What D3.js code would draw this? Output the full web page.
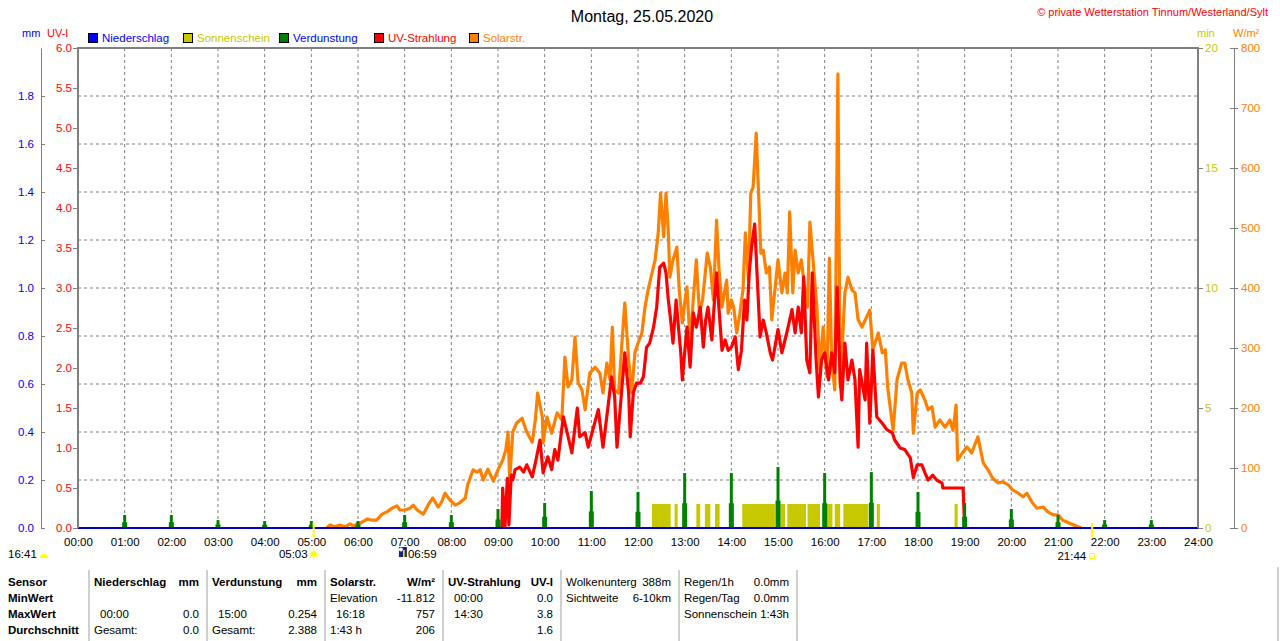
<!DOCTYPE html>
<html>
<head>
<meta charset="utf-8">
<script src="https://cdn.jsdelivr.net/npm/d3@7"></script>
<style>
  body { margin: 0; background: #fff; }
  svg { display: block; font-family: "Liberation Sans", Arial, sans-serif; }
</style>
</head>
<body>
<div id="chart"></div>
<script>
// --- Data (minutes after midnight, value) ---
const title = "Montag, 25.05.2020";
const copyright = "\u00a9 private Wetterstation Tinnum/Westerland/Sylt";

const hourLabels = d3.range(0, 25).map(h => String(h).padStart(2, "0") + ":00");

// Solarstrahlung W/m²
const solar = [
  [320,0],[324,5],[330,2],[337,5],[343,2],[350,7],[354,3],[359,7],[363,8],[368,12],[372,15],[378,13],
  [384,13],[391,23],[397,27],[404,33],[410,37],[414,30],[420,30],[427,33],[431,38],[436,30],[444,23],
  [450,38],[456,50],[463,35],[467,42],[472,58],[478,47],[485,38],[491,42],[498,50],[501,72],[508,97],
  [513,93],[517,97],[521,80],[527,98],[534,78],[540,97],[546,113],[550,130],[553,160],[555,80],[559,160],
  [564,175],[571,183],[575,167],[577,160],[584,143],[588,180],[591,225],[597,185],[598,142],[603,185],
  [609,158],[616,192],[622,180],[626,285],[630,235],[635,247],[639,318],[643,242],[648,230],[652,197],
  [658,258],[665,268],[671,258],[675,225],[680,275],[684,247],[687,335],[690,230],[695,225],[699,302],
  [703,375],[708,280],[712,225],[716,292],[720,308],[725,325],[729,368],[733,397],[738,425],[742,447],
  [746,492],[749,558],[753,485],[756,558],[759,492],[761,418],[765,447],[770,468],[773,397],[777,342],
  [780,375],[783,402],[787,308],[791,380],[795,447],[799,358],[803,380],[806,418],[809,458],[813,435],
  [817,380],[821,513],[824,435],[828,368],[831,392],[834,413],[836,358],[840,380],[843,368],[847,325],
  [851,358],[855,397],[858,492],[862,413],[865,558],[868,568],[872,658],[875,558],[878,458],[881,463],
  [885,425],[889,435],[892,347],[896,397],[900,447],[905,392],[909,425],[912,392],[915,527],[919,392],
  [922,463],[926,425],[930,447],[935,392],[938,368],[941,510],[945,447],[950,368],[954,263],[958,335],
  [963,252],[966,450],[969,280],[973,230],[977,757],[980,235],[986,392],[990,418],[995,397],[999,392],
  [1003,347],[1008,335],[1014,352],[1018,363],[1022,297],[1029,325],[1034,292],[1038,297],[1041,235],
  [1048,163],[1053,247],[1059,275],[1063,275],[1067,247],[1072,225],[1074,158],[1079,225],[1083,230],
  [1089,213],[1093,197],[1098,202],[1102,168],[1108,180],[1115,168],[1121,180],[1125,163],[1129,205],
  [1131,113],[1137,125],[1143,135],[1149,125],[1157,152],[1164,108],[1170,97],[1176,83],[1183,75],
  [1189,77],[1196,72],[1202,63],[1209,58],[1215,52],[1220,58],[1227,42],[1233,33],[1241,35],[1247,27],
  [1254,22],[1260,22],[1266,13],[1275,8],[1284,3],[1290,0]
];

// UV-Strahlung UV-I
const uv = [
  [545,0],[546,0.5],[549,0.02],[552,0.62],[554,0.04],[557,0.66],[559,0.6],[562,0.73],[568,0.76],
  [573,0.7],[577,0.79],[584,0.64],[588,0.81],[594,1.1],[598,0.69],[604,0.89],[609,0.73],[613,0.98],
  [617,0.85],[624,1.39],[629,1.19],[635,0.94],[642,1.5],[645,1.14],[652,1.19],[656,1.01],[662,1.23],
  [669,1.48],[675,1.01],[681,1.48],[686,1.89],[690,1.64],[693,1.01],[697,1.48],[703,2.19],[708,1.69],
  [710,1.14],[714,1.69],[718,1.81],[723,1.81],[727,1.89],[731,2.26],[735,2.31],[740,2.51],[744,2.76],
  [748,3.26],[753,3.31],[756,3.19],[759,2.85],[762,2.6],[765,2.31],[769,2.85],[772,2.51],[775,2.19],
  [777,1.85],[780,2.19],[783,2.51],[787,2.01],[791,2.69],[795,2.51],[800,2.76],[804,2.26],[807,2.6],
  [810,2.76],[815,2.35],[819,2.94],[821,3.19],[824,2.76],[828,2.22],[832,2.35],[836,2.22],[840,2.26],
  [845,2.39],[849,1.98],[853,2.22],[857,2.85],[860,2.6],[863,3.19],[866,3.51],[870,3.8],[873,3.19],
  [877,2.39],[881,2.6],[885,2.44],[890,2.19],[893,2.1],[896,2.26],[900,2.48],[905,2.19],[909,2.35],
  [913,2.51],[918,2.73],[922,2.44],[926,2.76],[930,2.44],[933,3.14],[937,2.1],[941,1.94],[944,3.19],
  [949,2.1],[952,1.64],[956,2.1],[960,2.19],[965,1.85],[969,2.19],[973,1.94],[976,3.01],[980,1.85],
  [982,1.6],[986,2.31],[990,1.85],[995,2.1],[999,1.85],[1003,1.01],[1005,1.98],[1012,1.6],[1014,2.31],
  [1018,1.31],[1022,2.22],[1027,1.39],[1034,1.31],[1040,1.23],[1047,1.19],[1050,1.1],[1057,1.0],
  [1063,0.98],[1070,0.88],[1074,0.63],[1079,0.79],[1085,0.79],[1089,0.69],[1093,0.6],[1099,0.66],
  [1104,0.6],[1111,0.56],[1112,0.5],[1138,0.5],[1140,0]
];

// Verdunstung mm per hour (00:00 .. 23:00)
const verdunstung = [0, 0.054, 0.054, 0.033, 0.029, 0.029, 0.029, 0.054, 0.054, 0.079, 0.104, 0.154,
  0.150, 0.229, 0.229, 0.254, 0.229, 0.233, 0.150, 0.104, 0.079, 0.054, 0.033, 0.033];

// Niederschlag mm per hour
const niederschlag = d3.range(0, 25).map(() => 0);

// Sonnenschein: [start, end] minutes, value in min
const sonnenschein = [
  [738,762,1],[767,771,1],[795,800,1],[806,813,1],[819,825,1],[854,896,1],[903,909,1],[912,936,1],
  [938,954,1],[962,970,1],[973,980,1],[984,1016,1],[1027,1031,1],[1127,1131,1]
];

const sunrise = 303, sunset = 1304, dayLength = "16:41", moonTime = 419;

const legendItems = [
  { name: "Niederschlag", fill: "#0000ff", text: "#0000ff" },
  { name: "Sonnenschein", fill: "#c8c800", text: "#c8c800" },
  { name: "Verdunstung", fill: "#008000", text: "#0000ff" },
  { name: "UV-Strahlung", fill: "#ff0000", text: "#ff0000" },
  { name: "Solarstr.", fill: "#ff8000", text: "#ff8000" }
];

// Table below chart
const rowLabels = ["Sensor", "MinWert", "MaxWert", "Durchschnitt"];
const tableBlocks = [
  { bold: true, rows: [["Niederschlag", "mm"], ["", ""], ["00:00", "0.0"], ["Gesamt:", "0.0"]] },
  { bold: true, rows: [["Verdunstung", "mm"], ["", ""], ["15:00", "0.254"], ["Gesamt:", "2.388"]] },
  { bold: true, rows: [["Solarstr.", "W/m\u00b2"], ["Elevation", "-11.812"], ["16:18", "757"], ["1:43 h", "206"]] },
  { bold: true, rows: [["UV-Strahlung", "UV-I"], ["00:00", "0.0"], ["14:30", "3.8"], ["", "1.6"]] },
  { bold: false, rows: [["Wolkenunterg", "388m"], ["Sichtweite", "6-10km"], ["", ""], ["", ""]] },
  { bold: false, rows: [["Regen/1h", "0.0mm"], ["Regen/Tag", "0.0mm"], ["Sonnenschein", "1:43h"], ["", ""]] }
];

// --- Setup ---
const W = 1280, H = 641;
const plot = { left: 78, right: 1198, top: 48, bottom: 528 };
const grey = "#808080";

const svg = d3.select("#chart").append("svg")
  .attr("width", W).attr("height", H);

const x = d3.scaleLinear().domain([0, 1440]).range([plot.left, plot.right]);
const yUV = d3.scaleLinear().domain([0, 6]).range([plot.bottom, plot.top]);
const yMM = d3.scaleLinear().domain([0, 2]).range([plot.bottom, plot.top]);
const yMin = d3.scaleLinear().domain([0, 20]).range([plot.bottom, plot.top]);
const ySol = d3.scaleLinear().domain([0, 800]).range([plot.bottom, plot.top]);

function styleAxis(g, color) {
  g.attr("font-family", null).attr("font-size", null);
  g.selectAll("text").attr("fill", color).style("font-size", "11.5px");
  g.selectAll("line").attr("stroke", grey);
  g.select(".domain").attr("stroke", grey);
}

// --- Header ---
svg.append("text").attr("x", 642).attr("y", 22).attr("text-anchor", "middle")
  .style("font-size", "16px").text(title);
svg.append("text").attr("x", 1268).attr("y", 16).attr("text-anchor", "end")
  .attr("fill", "#ff0000").style("font-size", "11px").text(copyright);

const axisTitles = [
  { t: "mm", x: 22, c: "#0000ff" }, { t: "UV-I", x: 47, c: "#ff0000" },
  { t: "min", x: 1197, c: "#c8c800" }, { t: "W/m\u00b2", x: 1233, c: "#ff8000" }
];
axisTitles.forEach(a => svg.append("text").attr("x", a.x).attr("y", 37)
  .attr("fill", a.c).style("font-size", "11px").text(a.t));

const legendX = [88, 183, 279, 374, 469];
const legend = svg.append("g");
legendItems.forEach((item, i) => {
  legend.append("rect").attr("x", legendX[i] + 0.5).attr("y", 33.5).attr("width", 9).attr("height", 9)
    .attr("fill", item.fill).attr("stroke", "#000");
  legend.append("text").attr("x", legendX[i] + 14).attr("y", 42)
    .attr("fill", item.text).style("font-size", "11.5px").text(item.name);
});

// --- Grid ---
const grid = svg.append("g").attr("stroke", grey).attr("stroke-dasharray", "3,3");
d3.range(60, 1440, 60).forEach(m => {
  grid.append("line").attr("x1", x(m)).attr("x2", x(m)).attr("y1", plot.top).attr("y2", plot.bottom);
});
d3.range(1, 10).forEach(i => {
  grid.append("line").attr("x1", plot.left).attr("x2", plot.right)
    .attr("y1", yMM(i * 0.2)).attr("y2", yMM(i * 0.2));
});

// --- Axes ---
svg.append("g").attr("transform", "translate(41,0)")
  .call(d3.axisLeft(yMM).tickValues(d3.range(0, 10).map(i => i * 0.2))
    .tickFormat(d3.format(".1f")).tickSizeInner(-4).tickSizeOuter(0).tickPadding(7))
  .call(g => styleAxis(g, "#0000ff"));

svg.append("g").attr("transform", `translate(${plot.left},0)`)
  .call(d3.axisLeft(yUV).tickValues(d3.range(0, 13).map(i => i * 0.5))
    .tickFormat(d3.format(".1f")).tickSize(5).tickPadding(1))
  .call(g => styleAxis(g, "#ff0000"))
  .call(g => g.select(".domain").remove());

svg.append("g").attr("transform", `translate(${plot.right},0)`)
  .call(d3.axisRight(yMin).tickValues([0, 5, 10, 15, 20]).tickSize(5).tickPadding(2))
  .call(g => styleAxis(g, "#c8c800"))
  .call(g => g.select(".domain").remove());

svg.append("g").attr("transform", "translate(1234,0)")
  .call(d3.axisRight(ySol).ticks(8).tickSizeInner(4).tickSizeOuter(0).tickPadding(3))
  .call(g => styleAxis(g, "#ff8000"))
  .call(g => g.selectAll(".tick line").attr("x1", -4));

svg.append("g").attr("transform", `translate(0,${plot.bottom})`)
  .call(d3.axisBottom(x).tickValues(d3.range(0, 1441, 60))
    .tickFormat((d, i) => hourLabels[i]).tickSize(0).tickPadding(10))
  .call(g => styleAxis(g, "#000"))
  .call(g => g.select(".domain").remove());

// --- Series ---
svg.append("g").selectAll("rect").data(sonnenschein).join("rect")
  .attr("x", d => x(d[0])).attr("width", d => x(d[1]) - x(d[0]))
  .attr("y", d => yMin(d[2])).attr("height", d => yMin(0) - yMin(d[2]))
  .attr("fill", "#c8c800");

const lineSol = d3.line().x(d => x(d[0])).y(d => ySol(d[1]));
svg.append("path").datum(solar).attr("d", lineSol)
  .attr("fill", "none").attr("stroke", "#ff8000").attr("stroke-width", 3.2).attr("stroke-linejoin", "round");

const lineUV = d3.line().x(d => x(d[0])).y(d => yUV(d[1]));
svg.append("path").datum(uv).attr("d", lineUV)
  .attr("fill", "none").attr("stroke", "#ff0000").attr("stroke-width", 3.2).attr("stroke-linejoin", "round");

const evap = svg.append("g").attr("fill", "#008000");
verdunstung.forEach((v, h) => {
  if (!v) return;
  const cx = x(h * 60);
  evap.append("rect").attr("x", cx - 1.5).attr("width", 3)
    .attr("y", yMM(v)).attr("height", yMM(0) - yMM(v));
  evap.append("rect").attr("x", cx - 2.5).attr("width", 5)
    .attr("y", yMM(v * 0.45)).attr("height", yMM(0) - yMM(v * 0.45));
});

svg.append("path").datum(niederschlag)
  .attr("d", d3.line().x((d, i) => x(i * 60)).y(d => yMM(d)))
  .attr("fill", "none").attr("stroke", "#0000c8").attr("stroke-width", 2);

// frame
svg.append("path")
  .attr("d", `M${plot.left},${plot.bottom}V${plot.top}H${plot.right}V${plot.bottom}`)
  .attr("fill", "none").attr("stroke", grey).attr("stroke-width", 2);

// --- Sun markers ---
const mk = svg.append("g").style("font-size", "11.5px");
[sunrise, sunset].forEach(m => {
  mk.append("line").attr("x1", x(m)).attr("x2", x(m)).attr("y1", 523).attr("y2", 537)
    .attr("stroke", "#ffff00").attr("stroke-width", 2);
});
mk.append("text").attr("x", 8).attr("y", 558).text(dayLength);
mk.append("path").attr("d", "M40,558 a4,4 0 0 1 8,0 Z").attr("fill", "#ffff00");

mk.append("text").attr("x", x(sunrise) - 6).attr("y", 558).attr("text-anchor", "end")
  .text(d3.timeFormat("%H:%M")(new Date(2020, 4, 25, 0, sunrise)));
const sun = mk.append("g").attr("transform", `translate(${x(sunrise)},554)`);
sun.append("circle").attr("r", 3).attr("fill", "#ffff00");
d3.range(0, 8).forEach(i => {
  const a = i * Math.PI / 4;
  sun.append("line").attr("x1", Math.cos(a) * 4).attr("y1", Math.sin(a) * 4)
    .attr("x2", Math.cos(a) * 5.5).attr("y2", Math.sin(a) * 5.5).attr("stroke", "#ffff00");
});

mk.append("text").attr("x", x(sunset) - 6).attr("y", 560).attr("text-anchor", "end")
  .text(d3.timeFormat("%H:%M")(new Date(2020, 4, 25, 0, sunset)));
mk.append("rect").attr("x", x(sunset) - 2.5).attr("y", 553.5).attr("width", 5).attr("height", 5)
  .attr("fill", "none").attr("stroke", "#ffff00");

const moonX = x(moonTime);
mk.append("rect").attr("x", moonX - 5).attr("y", 547).attr("width", 8).attr("height", 10).attr("fill", "#1a237e");
mk.append("circle").attr("cx", moonX - 3).attr("cy", 549.5).attr("r", 2).attr("fill", "#fff");
mk.append("line").attr("x1", moonX).attr("x2", moonX).attr("y1", 550).attr("y2", 557)
  .attr("stroke", "#ffff00").attr("stroke-width", 1.5);
mk.append("text").attr("x", moonX + 4).attr("y", 558)
  .text(d3.timeFormat("%H:%M")(new Date(2020, 4, 25, 0, moonTime)));

// --- Table ---
const seps = [89, 207, 325, 443, 561, 679, 797];
const rowY = [586, 602, 618, 634];
const table = svg.append("g").style("font-size", "11.5px");

seps.forEach(s => table.append("line").attr("x1", s).attr("x2", s).attr("y1", 570).attr("y2", H)
  .attr("stroke", "#a0a0a0"));
table.append("line").attr("x1", 1278).attr("x2", 1278).attr("y1", 567).attr("y2", H).attr("stroke", "#a0a0a0");

rowLabels.forEach((r, i) => table.append("text").attr("x", 8).attr("y", rowY[i])
  .attr("font-weight", "bold").text(r));

tableBlocks.forEach((b, bi) => {
  const left = seps[bi] + 5, right = seps[bi + 1] - 8;
  b.rows.forEach((row, ri) => {
    const bold = b.bold && ri === 0;
    const indent = /^\d\d:\d\d$/.test(row[0]) ? 6 : 0;
    table.append("text").attr("x", left + indent).attr("y", rowY[ri])
      .attr("font-weight", bold ? "bold" : null).text(row[0]);
    table.append("text").attr("x", right).attr("y", rowY[ri]).attr("text-anchor", "end")
      .attr("font-weight", bold ? "bold" : null).text(row[1]);
  });
});
</script>
</body>
</html>
